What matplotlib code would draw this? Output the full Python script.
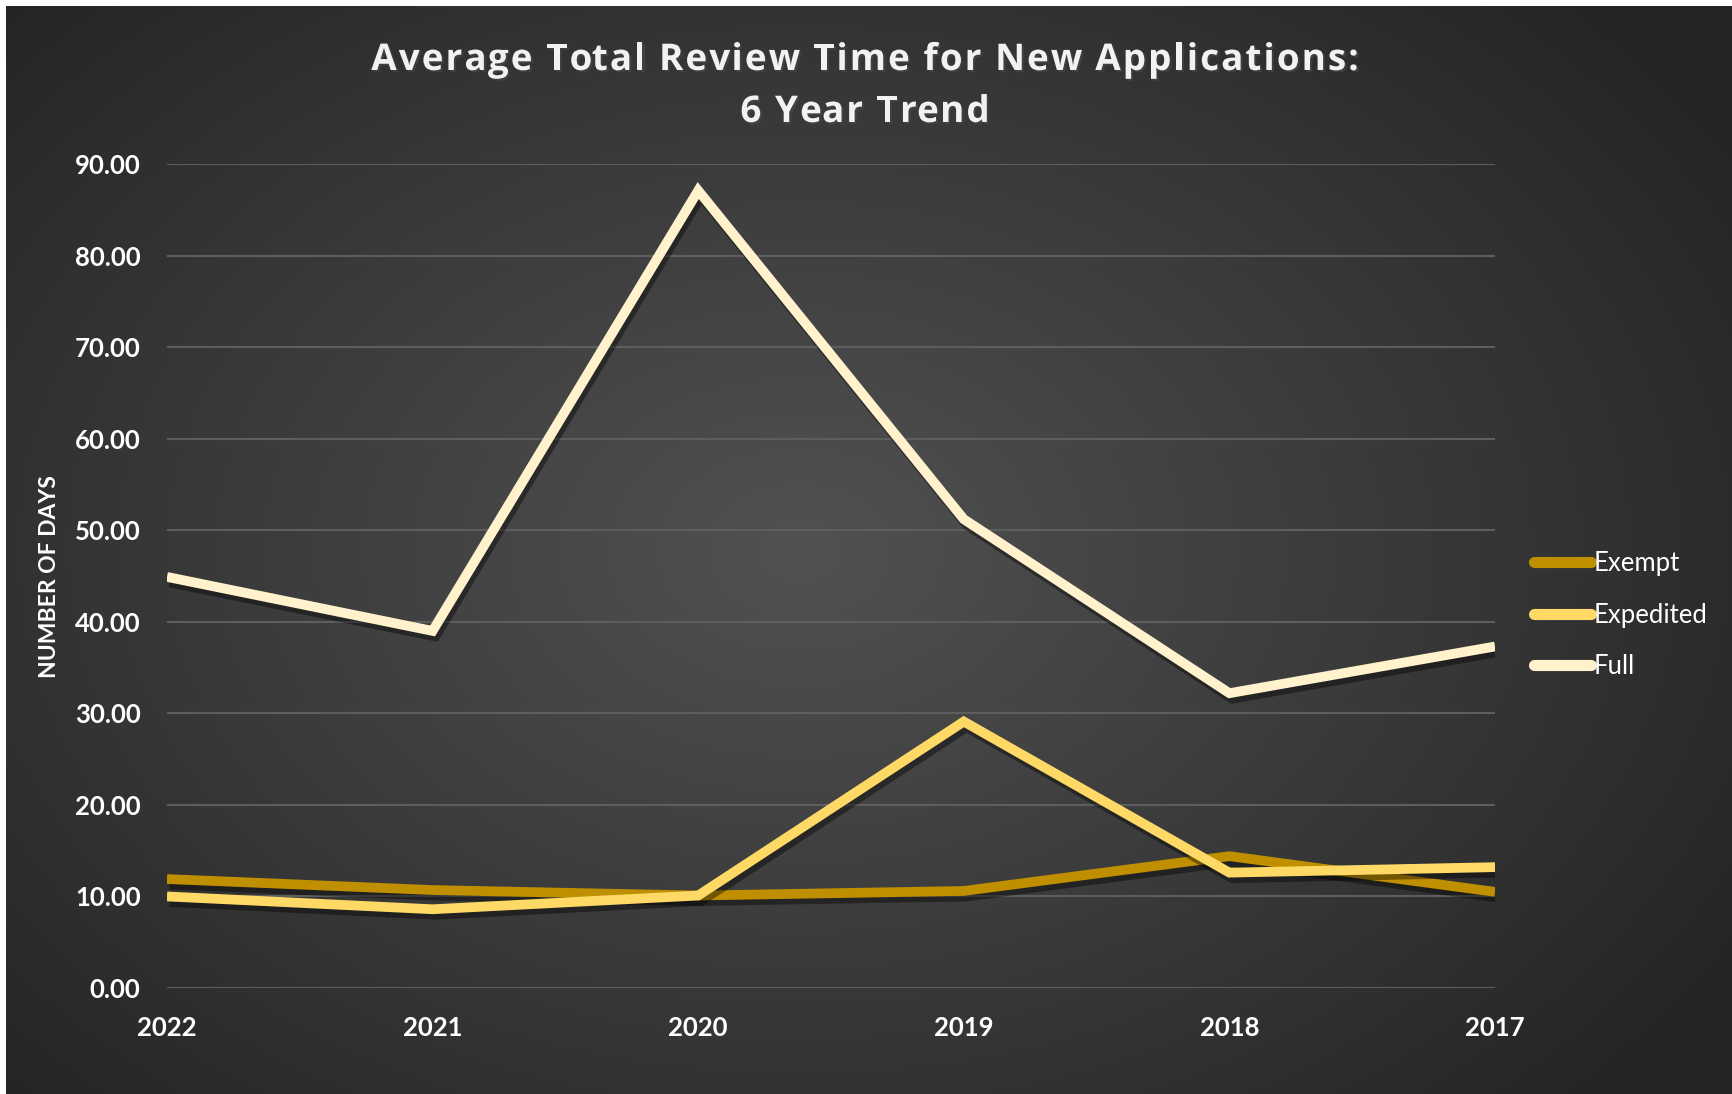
# Average total review time for new applications, 6 year trend

import matplotlib.pyplot as plt
import matplotlib.patheffects as pe
import numpy as np

# Data for the chart
years = ['2022', '2021', '2020', '2019', '2018', '2017']
exempt = [11.9, 10.7, 10.1, 10.6, 14.4, 10.5]
expedited = [10.0, 8.6, 10.1, 29.1, 12.6, 13.2]
full = [44.9, 39.0, 87.1, 51.2, 32.2, 37.3]
y_ticks = [0, 10, 20, 30, 40, 50, 60, 70, 80, 90]

colors = {'Exempt': '#BF8F00', 'Expedited': '#FFD966', 'Full': '#FFF2CC'}

plt.rcParams['font.family'] = ['Lato', 'DejaVu Sans']

W, H = 1732, 1094
fig = plt.figure(figsize=(W / 100, H / 100), dpi=100)
fig.patch.set_facecolor('white')

# radial gradient background (chart area starts a few px in from top/left)
bg = fig.add_axes([6 / W, 0, 1 - 6 / W, 1 - 6 / H])
yy, xx = np.mgrid[0:1:400j, 0:1:640j]
d = np.sqrt(((xx - 0.46) / 0.75) ** 2 + ((yy - 0.5) / 0.85) ** 2)
d = np.clip(d / 0.85, 0, 1)
shade = 0.32 - 0.175 * d
bg.imshow(np.dstack([shade, shade, shade]), aspect='auto', extent=[0, 1, 0, 1])
bg.set_axis_off()

ax = fig.add_axes([167 / W, 1 - 988 / H, (1495 - 167) / W, (988 - 164) / H])
ax.patch.set_alpha(0)

x = np.arange(len(years))
shadow = [pe.SimpleLineShadow(offset=(2, -4), shadow_color='black', alpha=0.4, rho=1), pe.Normal()]
for name, vals in [('Exempt', exempt), ('Expedited', expedited), ('Full', full)]:
    ax.plot(x, vals, color=colors[name], lw=7, label=name, solid_joinstyle='miter',
            solid_capstyle='butt', path_effects=shadow, zorder=3)

ax.set_xlim(0, len(years) - 1)
ax.set_ylim(0, 90)
ax.set_xticks(x)
ax.set_xticklabels(years)
ax.set_yticks(y_ticks)
ax.set_yticklabels([f'{v:.2f}' for v in y_ticks])
ax.tick_params(axis='both', length=0, colors='white', labelsize=18.5)
ax.tick_params(axis='y', pad=19)
ax.tick_params(axis='x', pad=20)
for lbl in ax.get_xticklabels() + ax.get_yticklabels():
    lbl.set_fontweight('bold')
ax.grid(axis='y', color='#5e5e5e', lw=1.5, zorder=0)
for spine in ax.spines.values():
    spine.set_visible(False)

fig.text(50 / W, 1 - 577 / H, 'NUMBER OF DAYS', rotation=90, color='white',
         fontsize=16.5, fontweight='bold', ha='center', va='center')

# title with a bit of letter spacing, like the original
renderer = fig.canvas.get_renderer()
title_kw = dict(family=['Open Sans', 'DejaVu Sans'], color='#f2f2f2', fontsize=26.5,
                fontweight='bold', va='center', ha='left',
                path_effects=[pe.withSimplePatchShadow(offset=(1.5, -1.5), alpha=0.6)])


def text_width(s):
    t = fig.text(0, 0, s.replace(' ', '\u00a0'), **title_kw)
    w = t.get_window_extent(renderer).width
    t.remove()
    return w


def tracked_title(s, xc, yc, track=2.1):
    total = text_width(s) + track * (len(s) - 1)
    x0 = xc - total / 2
    for i, ch in enumerate(s):
        if ch == ' ':
            continue
        xi = x0 + (text_width(s[:i]) if i else 0) + track * i
        fig.text(xi / W, 1 - yc / H, ch, **title_kw)


tracked_title('Average Total Review Time for New Applications:', 865, 60)
tracked_title('6 Year Trend', 865, 112)

leg = fig.legend(loc='center left', bbox_to_anchor=(1511 / W, 1 - 615 / H), frameon=False,
                 fontsize=18.5, labelcolor='white', handlelength=2.2, handletextpad=0.1,
                 labelspacing=1.05)
for h in leg.get_lines():
    h.set_linewidth(8)
    h.set_solid_capstyle('round')
    h.set_path_effects([])

fig.savefig('out.png', dpi=100, facecolor=fig.get_facecolor())
